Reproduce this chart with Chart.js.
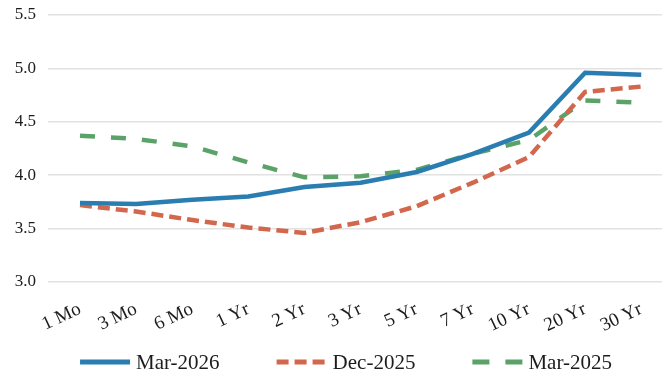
<!DOCTYPE html>
<html>
<head>
<meta charset="utf-8">
<script src="https://cdn.jsdelivr.net/npm/chart.js@4.4.1/dist/chart.umd.min.js"></script>
<style>
  html, body { margin: 0; padding: 0; background: #ffffff; }
  #wrap { width: 669px; height: 375px; }
</style>
</head>
<body>
<div id="wrap"><canvas id="c" width="669" height="375"></canvas></div>
<script>
// Treasury yield curve by maturity
const maturities = ['1 Mo', '3 Mo', '6 Mo', '1 Yr', '2 Yr', '3 Yr', '5 Yr', '7 Yr', '10 Yr', '20 Yr', '30 Yr'];
const yieldsMar2026 = [3.74, 3.73, 3.77, 3.80, 3.89, 3.93, 4.03, 4.20, 4.40, 4.96, 4.94];
const yieldsDec2025 = [3.72, 3.66, 3.58, 3.51, 3.46, 3.56, 3.71, 3.93, 4.17, 4.78, 4.83];
const yieldsMar2025 = [4.37, 4.34, 4.27, 4.12, 3.98, 3.99, 4.05, 4.20, 4.33, 4.70, 4.68];
const yTicks = [3.0, 3.5, 4.0, 4.5, 5.0, 5.5];

const serif = "'Liberation Serif', 'DejaVu Serif', serif";
const textColor = '#1c1c1c';

// maturity index -> point for the linear x scale
const toPoints = (vals) => vals.map((y, i) => ({ x: i, y }));

const series = [
  { label: 'Mar-2026', values: yieldsMar2026, color: '#2a7db0', dash: [], legendDash: [] },
  { label: 'Dec-2025', values: yieldsDec2025, color: '#d2674d', dash: [12, 6], legendDash: [12, 6] },
  { label: 'Mar-2025', values: yieldsMar2025, color: '#5ba268', dash: [15, 16], legendDash: [17, 16] }
];

// Legend drawn under the axis: line sample followed by its label
const bottomLegend = {
  id: 'bottomLegend',
  afterDraw(chart) {
    const ctx = chart.ctx;
    const sampleW = 50, gap = 6, spacing = 57, y = 362;
    ctx.save();
    ctx.font = '21px ' + serif;
    ctx.textBaseline = 'middle';
    ctx.textAlign = 'left';
    const widths = chart.data.datasets.map(ds => ctx.measureText(ds.label).width);
    const total = widths.reduce((a, w) => a + sampleW + gap + w, 0) + spacing * (widths.length - 1);
    let x = 346 - total / 2;
    chart.data.datasets.forEach((ds, i) => {
      ctx.beginPath();
      ctx.strokeStyle = ds.borderColor;
      ctx.lineWidth = 5;
      ctx.lineCap = 'butt';
      ctx.setLineDash(series[i].legendDash);
      ctx.moveTo(x, y);
      ctx.lineTo(x + sampleW, y);
      ctx.stroke();
      ctx.setLineDash([]);
      ctx.fillStyle = textColor;
      ctx.fillText(ds.label, x + sampleW + gap, y + 1);
      x += sampleW + gap + widths[i] + spacing;
    });
    ctx.restore();
  }
};

new Chart(document.getElementById('c'), {
  type: 'line',
  data: {
    datasets: series.map(s => ({
      label: s.label,
      data: toPoints(s.values),
      borderColor: s.color,
      backgroundColor: s.color,
      borderWidth: 4.5,
      borderDash: s.dash,
      pointRadius: 0,
      tension: 0
    }))
  },
  options: {
    responsive: false,
    animation: false,
    layout: { padding: { left: 0, right: 7, top: 15, bottom: 0 } },
    scales: {
      x: {
        type: 'linear',
        min: -0.57, max: 10.37,
        afterBuildTicks: (axis) => { axis.ticks = maturities.map((_, i) => ({ value: i })); },
        afterFit: (axis) => { axis.height = 93; axis.paddingLeft = 0; axis.paddingRight = 0; },
        grid: { display: false },
        border: { display: false },
        ticks: {
          autoSkip: false,
          color: textColor, font: { family: serif, size: 19 },
          maxRotation: 25, minRotation: 25, padding: 8,
          callback: (v) => maturities[v]
        }
      },
      y: {
        min: 3.0, max: 5.5,
        afterBuildTicks: (axis) => { axis.ticks = yTicks.map(v => ({ value: v })); },
        afterFit: (axis) => { axis.width = 48; axis.paddingTop = 0; axis.paddingBottom = 0; },
        grid: { color: '#e2e2e2', lineWidth: 1.5, drawTicks: false },
        border: { display: false },
        ticks: {
          color: textColor, font: { family: serif, size: 17 }, padding: 12,
          callback: (v) => Number(v).toFixed(1)
        }
      }
    },
    plugins: {
      legend: { display: false },
      tooltip: { enabled: false }
    }
  },
  plugins: [bottomLegend]
});
</script>
</body>
</html>
